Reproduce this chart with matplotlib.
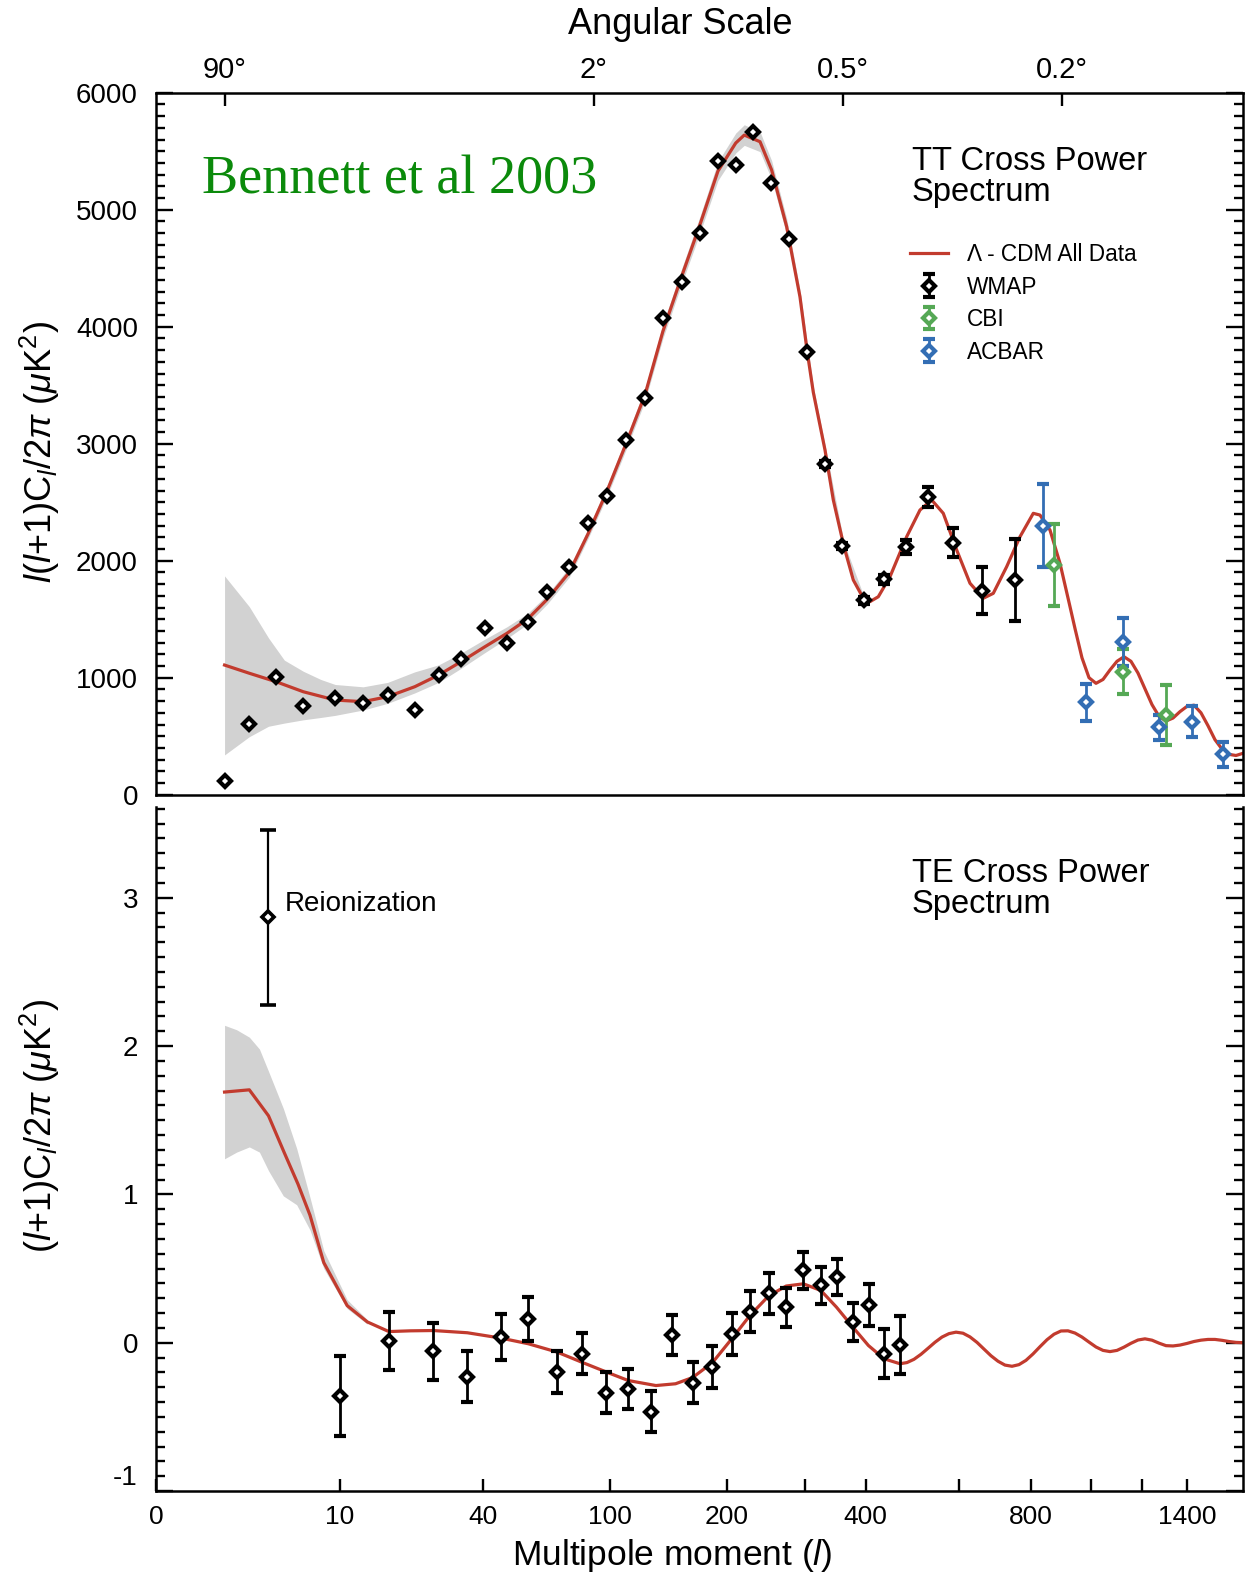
import numpy as np
import matplotlib
matplotlib.use("Agg")
import matplotlib.pyplot as plt
from matplotlib import font_manager
from matplotlib.ticker import MultipleLocator, NullLocator

plt.rcParams['font.family'] = ['Liberation Sans', 'DejaVu Sans']
plt.rcParams['mathtext.fontset'] = 'custom'
plt.rcParams['mathtext.rm'] = 'Liberation Sans'
plt.rcParams['mathtext.it'] = 'Liberation Sans:italic'
plt.rcParams['mathtext.bf'] = 'Liberation Sans:bold'
plt.rcParams['axes.unicode_minus'] = False

names = {f.name for f in font_manager.fontManager.ttflist}
HAS_NARROW = 'Liberation Sans Narrow' in names
NARROW = ['Liberation Sans Narrow', 'Liberation Sans'] if HAS_NARROW else ['Liberation Sans']

# ---- TT spectrum ----
tt_wmap_l = [2, 3, 4.45, 6.43, 9.51, 13.0, 16.8, 21.9, 27.3, 33.2, 40.5, 48.2, 56.5, 65.2,
             76.2, 86.4, 98.3, 110.6, 124.8, 139.1, 155.3, 172.4, 190.3, 209.9, 230.5,
             252.3, 277.4, 303.3, 330.5, 358, 396.9, 435.2, 479.1, 527.6, 586.2, 659.5, 751]
tt_wmap_val = [120, 607, 1009, 761, 829, 786, 850, 721, 1023, 1162, 1427, 1299, 1476, 1730,
               1949, 2320, 2553, 3032, 3390, 4078, 4380, 4803, 5419, 5382, 5664,
               5231, 4752, 3781, 2828, 2127, 1664, 1841, 2120, 2547, 2154, 1744, 1835]
tt_wmap_err = [0, 0, 0, 0, 0, 0, 0, 0, 0, 0, 0, 0, 0, 0,
               0, 0, 0, 0, 0, 0, 0, 0, 0, 0, 0,
               0, 0, 0, 25, 25, 30, 40, 60, 84, 124, 200, 350]

cbi_l = [874, 1125, 1304]
cbi_val = [1963, 1051, 681]
cbi_err = [350, 192, 259]

acbar_l = [839, 982, 1125, 1275, 1425, 1578]
acbar_val = [2299, 790, 1302, 576, 624, 345]
acbar_err = [356, 157, 204, 107, 134, 104]

tt_model_l = [2, 3, 4.45, 6.43, 9.5, 13, 16.8, 21.9, 27.3, 33.2, 40.5, 48.2, 56.5, 65.2,
              76.2, 86.6, 98, 110.9, 124.8, 139, 155.6, 172.3, 190.6, 210, 219.8, 238.8,
              253.6, 273.7, 292.5, 303.3, 312.3, 330.5, 343.9, 361.7, 377.8, 395.6, 407.9,
              423.6, 446.4, 480.5, 509.1, 535.3, 562.2, 594.6, 628.1, 662.9, 690.1, 727.8,
              766.8, 807.2, 828.2, 860.3, 893.3, 927.2, 944.6, 969.2, 994.4, 1020, 1046.2,
              1072.7, 1099.8, 1127.5, 1155.6, 1184.3, 1213.5, 1243.3, 1273.6, 1304.4, 1335.9,
              1367.8, 1400.4, 1433.4, 1467.1, 1501.4, 1536.3, 1571.8, 1607.9, 1644.6, 1682]
tt_model_val = [1108, 1038, 966, 880, 809, 795, 838, 923, 1023, 1137, 1265, 1379, 1502, 1670,
                1900, 2230, 2590, 3000, 3420, 3960, 4440, 4870, 5330, 5570, 5638, 5581,
                5339, 4855, 4256, 3781, 3440, 2946, 2519, 2120, 1835, 1679, 1650,
                1692, 1863, 2205, 2433, 2519, 2405, 2091, 1807, 1679, 1721, 1949,
                2205, 2405, 2390, 2262, 1978, 1608, 1420, 1170, 1000, 952, 985,
                1066, 1140, 1179, 1140, 1040, 905, 770, 670, 630, 655,
                710, 755, 765, 700, 590, 470, 390, 345, 335, 354]

tt_band_l = [2, 3, 4, 5, 6.43, 8, 9.5, 13, 16.8, 21.9, 27.3, 33.2, 40.5, 48.2, 56.5, 65.2,
             76.2, 86.6, 98, 110.9, 124.8, 139, 155.6, 172.3, 190.6, 210, 219.8, 238.8,
             253.6, 273.7, 292.5, 312.3, 330.5, 361.7, 395.6]
tt_band_lo = [340, 496, 585, 612, 640, 660, 678, 724, 781, 870, 960, 1080, 1215, 1335, 1460, 1630,
              1860, 2190, 2545, 2950, 3365, 3900, 4375, 4800, 5250, 5485, 5550, 5496,
              5259, 4785, 4196, 3390, 2901, 2085, 1649]
tt_band_hi = [1870, 1607, 1340, 1150, 1055, 985, 942, 922, 960, 1050, 1110, 1210, 1330, 1435, 1550, 1710,
              1945, 2275, 2635, 3050, 3475, 4020, 4505, 4940, 5410, 5655, 5726, 5666,
              5419, 4925, 4316, 3490, 2991, 2155, 1709]

# ---- TE spectrum ----
te_wmap_l = [10, 17, 26, 35, 46, 56.7, 69.9, 82.9, 97.8, 112.4, 129.5, 146.5, 165.3, 184.8,
             206, 226.1, 249.6, 273.3, 297.5, 323.9, 349.3, 376.8, 405.3, 434.6, 466.2]
te_wmap_val = [-0.36, 0.011, -0.057, -0.230, 0.036, 0.157, -0.198, -0.075, -0.336, -0.311,
               -0.464, 0.055, -0.270, -0.165, 0.058, 0.210, 0.334, 0.240, 0.487, 0.386,
               0.442, 0.139, 0.256, -0.075, -0.014]
te_wmap_err = [0.27, 0.193, 0.193, 0.171, 0.155, 0.148, 0.139, 0.137, 0.138, 0.135,
               0.137, 0.135, 0.14, 0.14, 0.14, 0.14, 0.138, 0.131, 0.126, 0.124,
               0.122, 0.127, 0.142, 0.166, 0.194]

reion_l = [4]
reion_val = [2.87]
reion_err = [0.59]

te_model_l = [2, 3, 4, 5, 6, 7, 8.3, 10.9, 13.6, 17, 21, 26, 35, 46, 56.7, 69.9, 82.9, 97.8,
              112.4, 133.3, 149.8, 165.3, 184.8, 206, 226, 249.6, 273, 297.5, 324, 349, 377,
              405, 435, 466.6, 481.2, 496.1, 511.4, 526.9, 542.9, 559.2, 575.8, 592.9, 610.3,
              628.1, 646.3, 664.8, 683.8, 703.2, 722.9, 743.2, 763.7, 784.8, 806.3, 828.2,
              850.6, 873.4, 896.6, 920.3, 944.6, 969.2, 994.4, 1020, 1046.2, 1072.7, 1099.8,
              1127.5, 1155.6, 1184.3, 1213.5, 1243.3, 1273.6, 1304.4, 1335.9, 1367.8, 1400.4,
              1433.4, 1467.1, 1501.4, 1536.3, 1571.8, 1607.9, 1644.6, 1682]
te_model_val = [1.69, 1.705, 1.53, 1.28, 1.07, 0.86, 0.54, 0.25, 0.14, 0.075, 0.08, 0.082,
                0.067, 0.031, -0.007, -0.063, -0.131, -0.198, -0.255, -0.289, -0.277, -0.235,
                -0.135, 0.03, 0.18, 0.315, 0.382, 0.397, 0.352, 0.240, 0.105, -0.019, -0.109,
                -0.142, -0.134, -0.112, -0.078, -0.038, 0.003, 0.038, 0.061, 0.071, 0.064,
                0.039, 0.002, -0.043, -0.088, -0.125, -0.151, -0.159, -0.148, -0.119, -0.076,
                -0.027, 0.020, 0.057, 0.079, 0.080, 0.065, 0.038, 0.004, -0.029, -0.052, -0.060,
                -0.052, -0.030, -0.004, 0.018, 0.026, 0.017, -0.003, -0.020, -0.022, -0.016,
                -0.005, 0.008, 0.017, 0.022, 0.022, 0.016, 0.008, 0.002, 0.0]

te_band_l = [2, 2.45, 3, 3.5, 4, 4.93, 5.9, 7, 8.3, 10.9, 13.6]
te_band_lo = [1.24, 1.285, 1.32, 1.285, 1.16, 0.99, 0.93, 0.76, 0.50, 0.23, 0.125]
te_band_hi = [2.14, 2.11, 2.06, 1.98, 1.83, 1.58, 1.31, 0.98, 0.62, 0.29, 0.155]

# axis ticks
x_ticks = [10, 40, 100, 200, 300, 400, 600, 800, 1000, 1200, 1400]
x_labels = ['10', '40', '100', '200', '', '400', '', '800', '', '', '1400']
ang_ticks = [2, 90, 360, 900]
ang_labels = ['90°', '2°', '0.5°', '0.2°']

RED = '#c23b2e'
BAND = '#d2d2d2'
GREEN = '#55a855'
BLUE = '#336eb4'
W, H = 1246, 1580
XMIN, XMAX = 0.4936, 1682


def fwd(l):
    l = np.asarray(l, dtype=float)
    return np.sign(l) * np.abs(l) ** 0.25


def inv(u):
    u = np.asarray(u, dtype=float)
    return np.sign(u) * np.abs(u) ** 4


fig = plt.figure(figsize=(W / 100, H / 100), dpi=100)
ax1 = fig.add_axes([156 / W, 1 - 794.7 / H, 1087 / W, 702 / H])
ax2 = fig.add_axes([156 / W, 1 - 1491 / H, 1087 / W, 684 / H])

for ax in (ax1, ax2):
    ax.set_xscale('function', functions=(fwd, inv))
    ax.set_xlim(XMIN, XMAX)
    for s in ax.spines.values():
        s.set_linewidth(1.8)
ax2.spines['top'].set_visible(False)

ebkw = dict(fmt='D', ms=6.2, mew=3.0, mfc='white', elinewidth=2.0, capsize=4.5, capthick=1.5)

# ---- top panel ----
ax1.fill_between(tt_band_l, tt_band_lo, tt_band_hi, color=BAND, lw=0, zorder=1)
line, = ax1.plot(tt_model_l, tt_model_val, color=RED, lw=2.3, zorder=2)
err = np.array(tt_wmap_err, dtype=float)
err[err == 0] = np.nan
eb_w = ax1.errorbar(tt_wmap_l, tt_wmap_val, yerr=err, mec='black', ecolor='black', zorder=4, **ebkw)
eb_c = ax1.errorbar(cbi_l, cbi_val, yerr=cbi_err, mec=GREEN, ecolor=GREEN, zorder=3, **ebkw)
eb_a = ax1.errorbar(acbar_l, acbar_val, yerr=acbar_err, mec=BLUE, ecolor=BLUE, zorder=3, **ebkw)

ax1.set_ylim(0, 6000)
ax1.set_yticks(range(0, 7000, 1000))
ax1.yaxis.set_minor_locator(MultipleLocator(100))
ax1.set_xticks(ang_ticks, labels=ang_labels, fontsize=21)
ax1.xaxis.set_minor_locator(NullLocator())
ax1.tick_params(axis='y', which='both', direction='in', left=True, right=True,
                labelsize=20, pad=13, width=1.7)
ax1.tick_params(axis='y', which='major', length=12.5)
ax1.tick_params(axis='y', which='minor', length=6.5)
ax1.tick_params(axis='x', which='both', direction='in', top=True, bottom=False,
                labeltop=True, labelbottom=False, length=9, width=1.7, pad=6)

ax1.legend([line, eb_w, eb_c, eb_a], ['Λ - CDM All Data', 'WMAP', 'CBI', 'ACBAR'],
           loc='upper left', bbox_to_anchor=(910 / W, 1 - 243 / H),
           bbox_transform=fig.transFigure, frameon=False, fontsize=16.3,
           handlelength=1.7, handletextpad=0.8, labelspacing=0.42,
           borderpad=0, borderaxespad=0)

# ---- bottom panel ----
ax2.fill_between(te_band_l, te_band_lo, te_band_hi, color=BAND, lw=0, zorder=1)
ax2.plot(te_model_l, te_model_val, color=RED, lw=2.3, zorder=2)
ax2.errorbar(te_wmap_l, te_wmap_val, yerr=te_wmap_err, mec='black', ecolor='black',
             zorder=4, **ebkw)
ax2.errorbar(reion_l, reion_val, yerr=reion_err, fmt='D', ms=6, mew=2.6, mfc='white',
             mec='black', ecolor='black', elinewidth=1.6, capsize=6, capthick=1.2, zorder=4)
ax2.text(5.05, 2.96, 'Reionization', fontsize=20, va='center', ha='left')

ax2.set_ylim(-1, 3.612)
ax2.set_yticks([-1, 0, 1, 2, 3])
ax2.yaxis.set_minor_locator(MultipleLocator(0.1))
xfs = 22 if HAS_NARROW else 19
ax2.set_xticks([XMIN] + x_ticks, labels=['0'] + x_labels, fontsize=xfs, fontfamily=NARROW)
ax2.xaxis.set_minor_locator(NullLocator())
ax2.tick_params(axis='y', which='both', direction='in', left=True, right=True,
                labelsize=20, pad=13, width=1.7)
ax2.tick_params(axis='y', which='major', length=12.5)
ax2.tick_params(axis='y', which='minor', length=6.5)
ax2.tick_params(axis='x', which='both', direction='in', top=False, bottom=True,
                length=9, width=1.7, pad=10)
ax2.yaxis.get_major_ticks()[0].label1.set_verticalalignment('bottom')

# ---- texts ----
fig.text(201.5 / W, 1 - 194 / H, 'Bennett et al 2003', family='Liberation Serif',
         color='#0b8a0b', fontsize=39, va='baseline')
fig.text(912 / W, 1 - 201 / H, 'TT Cross Power\nSpectrum', fontsize=23.5,
         va='baseline', linespacing=1.0)
fig.text(912 / W, 1 - 913 / H, 'TE Cross Power\nSpectrum', fontsize=23.5,
         va='baseline', linespacing=1.0)
fig.text(680 / W, 1 - 24 / H, 'Angular Scale', fontsize=26, ha='center', va='center')
fig.text(672 / W, 1 - 1555 / H, r'Multipole moment ($l$)', fontsize=30 if HAS_NARROW else 25.5,
         family=NARROW, ha='center', va='center')
fig.text(40 / W, 1 - 452 / H, r'$l(l$+1)C$_l$/2$\pi$ ($\mu$K$^2$)', fontsize=26,
         rotation=90, ha='center', va='center')
fig.text(40 / W, 1 - 1126 / H, r'($l$+1)C$_l$/2$\pi$ ($\mu$K$^2$)', fontsize=26,
         rotation=90, ha='center', va='center')

fig.savefig('out.png', dpi=100)
